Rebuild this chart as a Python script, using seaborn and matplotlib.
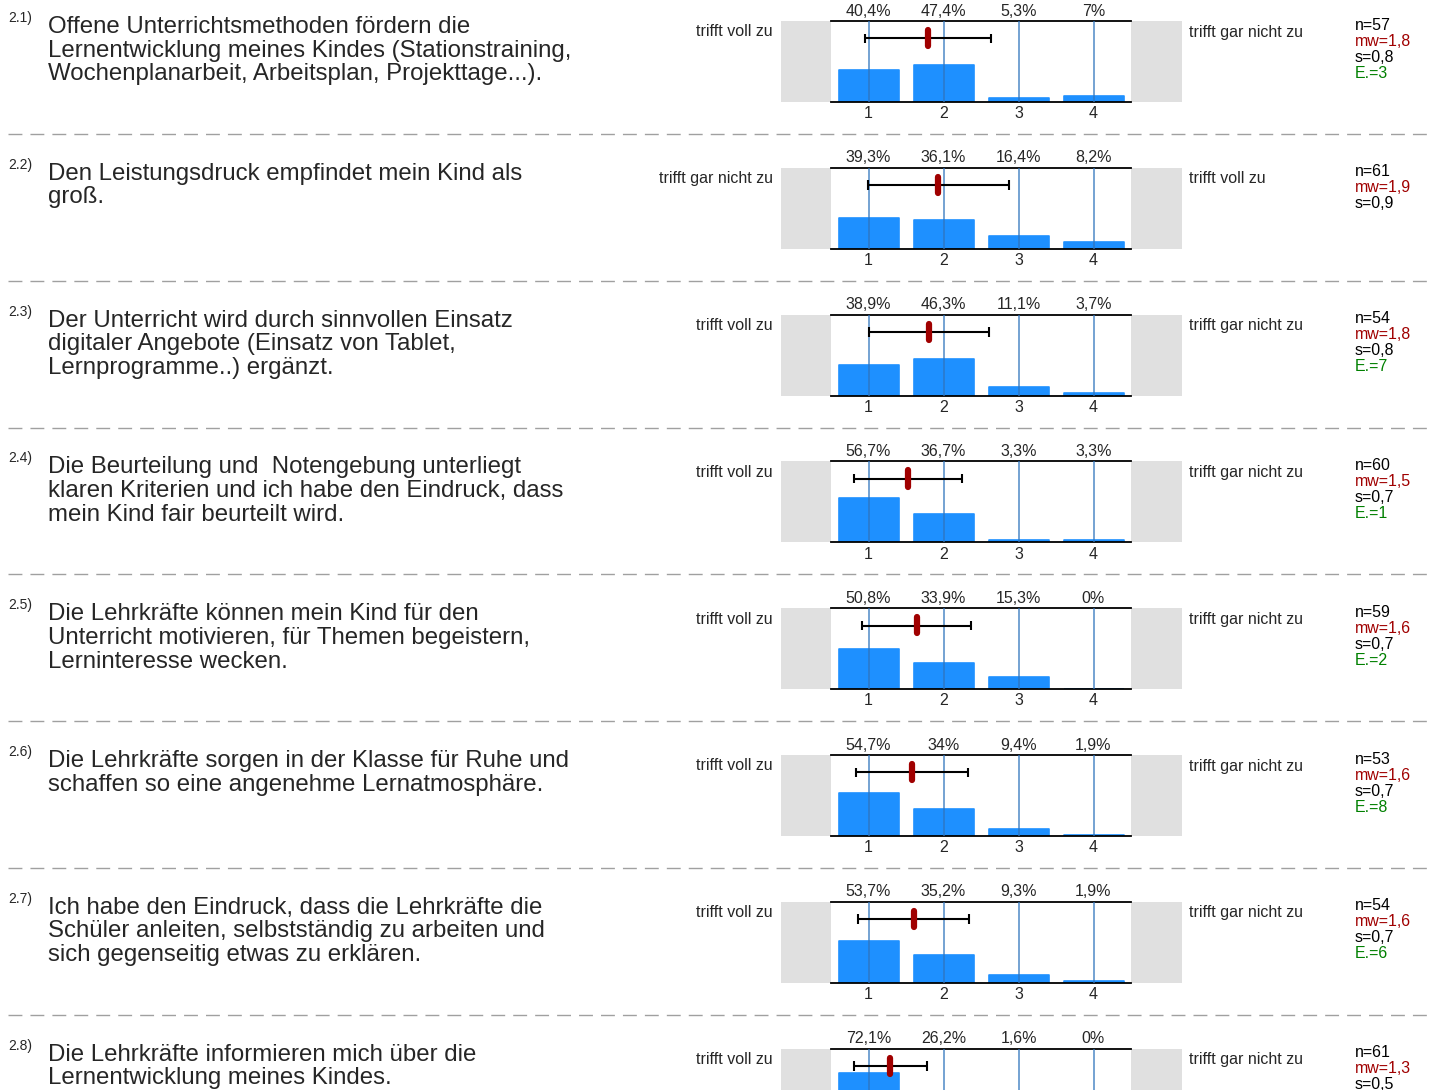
import numpy as np
import pandas as pd
import matplotlib
matplotlib.use("Agg")
import matplotlib.pyplot as plt
import matplotlib.transforms as mtransforms
from matplotlib.patches import Rectangle
import seaborn as sns

# data
numbers = ["2.1)", "2.2)", "2.3)", "2.4)", "2.5)", "2.6)", "2.7)", "2.8)"]
questions = [
    "Offene Unterrichtsmethoden fördern die\nLernentwicklung meines Kindes (Stationstraining,\nWochenplanarbeit, Arbeitsplan, Projekttage...).",
    "Den Leistungsdruck empfindet mein Kind als\ngroß.",
    "Der Unterricht wird durch sinnvollen Einsatz\ndigitaler Angebote (Einsatz von Tablet,\nLernprogramme..) ergänzt.",
    "Die Beurteilung und  Notengebung unterliegt\nklaren Kriterien und ich habe den Eindruck, dass\nmein Kind fair beurteilt wird.",
    "Die Lehrkräfte können mein Kind für den\nUnterricht motivieren, für Themen begeistern,\nLerninteresse wecken.",
    "Die Lehrkräfte sorgen in der Klasse für Ruhe und\nschaffen so eine angenehme Lernatmosphäre.",
    "Ich habe den Eindruck, dass die Lehrkräfte die\nSchüler anleiten, selbstständig zu arbeiten und\nsich gegenseitig etwas zu erklären.",
    "Die Lehrkräfte informieren mich über die\nLernentwicklung meines Kindes.",
]
left_labels = ["trifft voll zu", "trifft gar nicht zu", "trifft voll zu", "trifft voll zu",
               "trifft voll zu", "trifft voll zu", "trifft voll zu", "trifft voll zu"]
right_labels = ["trifft gar nicht zu", "trifft voll zu", "trifft gar nicht zu", "trifft gar nicht zu",
                "trifft gar nicht zu", "trifft gar nicht zu", "trifft gar nicht zu", "trifft gar nicht zu"]
categories = ["1", "2", "3", "4"]
percents = [
    [40.4, 47.4, 5.3, 7.0],
    [39.3, 36.1, 16.4, 8.2],
    [38.9, 46.3, 11.1, 3.7],
    [56.7, 36.7, 3.3, 3.3],
    [50.8, 33.9, 15.3, 0.0],
    [54.7, 34.0, 9.4, 1.9],
    [53.7, 35.2, 9.3, 1.9],
    [72.1, 26.2, 1.6, 0.0],
]
n_values = [57, 61, 54, 60, 59, 53, 54, 61]
means = [1.79, 1.93, 1.80, 1.53, 1.64, 1.58, 1.60, 1.29]
sds = [0.84, 0.94, 0.80, 0.72, 0.73, 0.75, 0.74, 0.49]
mw_labels = ["1,8", "1,9", "1,8", "1,5", "1,6", "1,6", "1,6", "1,3"]
s_labels = ["0,8", "0,9", "0,8", "0,7", "0,7", "0,7", "0,7", "0,5"]
abstentions = [3, None, 7, 1, 2, 8, 6, None]

sns.set_style("white")
plt.rcParams['font.family'] = ['Liberation Sans', 'DejaVu Sans']

W, H = 1429, 1090
pitch = 146.8
top0 = 21
ax_h = 81
small = 11.5

fig = plt.figure(figsize=(W / 100, H / 100), dpi=100)
bg = fig.add_axes([0, 0, 1, 1])
bg.set_xlim(0, W)
bg.set_ylim(H, 0)
bg.axis("off")


def pct_label(v):
    return f"{v:g}".replace(".", ",") + "%"


for k in range(len(questions)):
    yt = top0 + pitch * k
    ax = fig.add_axes([831 / W, 1 - (yt + ax_h) / H, 300 / W, ax_h / H])
    df = pd.DataFrame({"cat": categories, "pct": percents[k]})
    sns.barplot(data=df, x="cat", y="pct", color="#1e90ff", width=0.8,
                saturation=1, ax=ax, zorder=2, edgecolor="#1e90ff",
                linewidth=1.2)
    for p in ax.patches:
        p.set_joinstyle("round")
    ax.set_xlim(-0.5, 3.5)
    ax.set_ylim(0, 103)
    ax.set_xlabel("")
    ax.set_ylabel("")
    ax.set_yticks([])
    ax.set_xticks(range(4))
    # last row's tick labels fall below the figure edge, as in the reference
    ax.set_xticklabels(categories if yt + ax_h + 20 < H else [""] * 4)
    ax.tick_params(axis="x", length=0, pad=3, labelsize=small)
    for side in ["left", "right"]:
        ax.spines[side].set_visible(False)
    for side in ["top", "bottom"]:
        ax.spines[side].set_color("black")
        ax.spines[side].set_linewidth(1.3)

    for i in range(4):
        ax.axvline(i, color="#2f74bd", lw=1.1, alpha=0.85, zorder=3)

    # gray end boxes
    ax.add_patch(Rectangle((-50 / 300, 0), 50 / 300, 1, transform=ax.transAxes,
                           clip_on=False, facecolor="#e0e0e0", edgecolor="none"))
    ax.add_patch(Rectangle((1, 0), 51 / 300, 1, transform=ax.transAxes,
                           clip_on=False, facecolor="#e0e0e0", edgecolor="none"))

    # mean +- sd
    m = means[k] - 1
    s = sds[k]
    ax.hlines(81, m - s, m + s, color="black", lw=1.5, zorder=4)
    ax.vlines([m - s, m + s], 75, 87, color="black", lw=1.5, zorder=4)
    ax.plot([m, m], [71, 91.5], color="#a00000", lw=4.5,
            solid_capstyle="round", zorder=5)

    trans = mtransforms.blended_transform_factory(ax.transData, ax.transAxes)
    for i, v in enumerate(percents[k]):
        ax.text(i, 1 + 10 / 81, pct_label(v), transform=trans,
                ha="center", va="center", fontsize=small)

    # texts around
    bg.text(8, yt - 3, numbers[k], fontsize=10, va="center")
    bg.text(48, yt - 5, questions[k], fontsize=17.3, va="top", linespacing=1.1)
    bg.text(773, yt + 11, left_labels[k], ha="right", va="center", fontsize=small)
    bg.text(1189, yt + 11, right_labels[k], ha="left", va="center", fontsize=small)

    stats = [(f"n={n_values[k]}", "black"), (f"mw={mw_labels[k]}", "#a00000"),
             (f"s={s_labels[k]}", "black")]
    if abstentions[k] is not None:
        stats.append((f"E.={abstentions[k]}", "#008000"))
    for j, (txt, col) in enumerate(stats):
        bg.text(1355, yt + 4 + 16 * j, txt, color=col, fontsize=small, va="center")

    if k < len(questions) - 1:
        ysep = yt + 113
        bg.plot([8, W], [ysep, ysep], color="#a0a0a0", lw=1, dashes=(10, 5.8))

fig.savefig("out.png", dpi=100)
